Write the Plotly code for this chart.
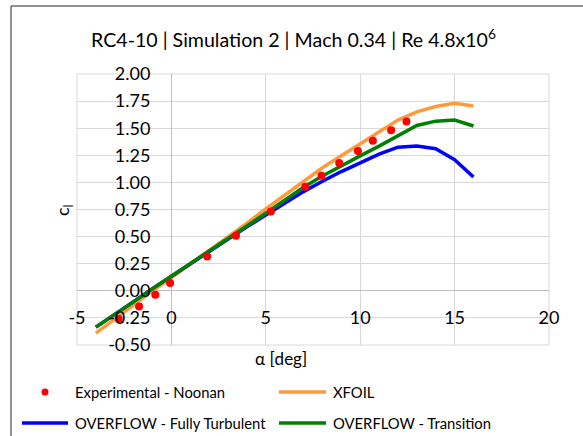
import plotly.graph_objects as go

# Angle of attack (deg) for the computed polars
alpha_sim = [-4, -3, -2, -1, 0, 1, 2, 3, 4, 5, 6, 7, 8, 9, 10, 11, 12, 13, 14, 15, 16]

cl_xfoil = [-0.39, -0.26, -0.13, 0.00, 0.12, 0.245, 0.37, 0.495, 0.625, 0.755, 0.885,
            1.015, 1.135, 1.245, 1.355, 1.46, 1.575, 1.65, 1.70, 1.73, 1.705]
cl_turb = [-0.335, -0.22, -0.10, 0.02, 0.135, 0.25, 0.365, 0.48, 0.59, 0.70, 0.81,
           0.915, 1.01, 1.10, 1.18, 1.26, 1.325, 1.335, 1.31, 1.21, 1.05]
cl_trans = [-0.335, -0.22, -0.10, 0.02, 0.135, 0.25, 0.37, 0.485, 0.60, 0.715, 0.835,
            0.955, 1.06, 1.155, 1.245, 1.335, 1.43, 1.525, 1.565, 1.575, 1.52]

# Wind-tunnel measurements
alpha_exp = [-2.79, -1.71, -0.85, -0.07, 1.90, 3.42, 5.27, 7.09, 7.95, 8.89, 9.88, 10.67, 11.64, 12.45]
cl_exp = [-0.26, -0.145, -0.037, 0.071, 0.316, 0.507, 0.732, 0.959, 1.061, 1.178, 1.289, 1.384, 1.482, 1.562]

x_ticks = [-5, 0, 5, 10, 15, 20]
y_ticks = [-0.5, -0.25, 0.0, 0.25, 0.5, 0.75, 1.0, 1.25, 1.5, 1.75, 2.0]
x_tick_text = [str(v) for v in x_ticks]
y_tick_text = [f"{v:.2f}" for v in y_ticks]

series_names = ["Experimental - Noonan", "XFOIL", "OVERFLOW - Fully Turbulent", "OVERFLOW - Transition"]
series_colors = ["#ff0000", "#ff9a3c", "#0000ff", "#008000"]

FONT = "Lato, 'Open Sans', sans-serif"
W, H = 583, 436
ML, MR, MT, MB = 77, 34, 74, 91
PW, PH = W - ML - MR, H - MT - MB


def px_x(p):
    return (p - ML) / PW


def px_y(p):
    return (H - MB - p) / PH


fig = go.Figure()
fig.add_trace(go.Scatter(x=alpha_sim, y=cl_xfoil, mode="lines", name=series_names[1],
                         line=dict(color=series_colors[1], width=3.5)))
fig.add_trace(go.Scatter(x=alpha_sim, y=cl_turb, mode="lines", name=series_names[2],
                         line=dict(color=series_colors[2], width=3.5)))
fig.add_trace(go.Scatter(x=alpha_sim, y=cl_trans, mode="lines", name=series_names[3],
                         line=dict(color=series_colors[3], width=3.5)))
fig.add_trace(go.Scatter(x=alpha_exp, y=cl_exp, mode="markers", name=series_names[0],
                         marker=dict(color=series_colors[0], size=8)))

axis_common = dict(
    showgrid=True, gridcolor="#d9d9d9", gridwidth=1,
    zeroline=True, zerolinecolor="#bfbfbf", zerolinewidth=1,
    showline=False, ticks="", tickfont=dict(family=FONT, size=18, color="#000000"),
)

fig.update_layout(
    width=W, height=H,
    margin=dict(l=ML, r=MR, t=MT, b=MB),
    paper_bgcolor="white", plot_bgcolor="white",
    showlegend=False,
    title=dict(text="RC4-10 | Simulation 2 | Mach 0.34 | Re 4.8x10<sup>6</sup>",
               x=293.5 / W, xanchor="center", xref="container",
               y=1 - 40 / H, yanchor="middle", yref="container",
               font=dict(family=FONT, size=19.6, color="#000000")),
    xaxis=dict(range=[-5, 20], tickvals=x_ticks, ticktext=x_tick_text,
               anchor="free", position=0.2, ticklabelstandoff=14, **axis_common),
    yaxis=dict(range=[-0.5, 2.0], tickvals=y_ticks, ticktext=y_tick_text,
               anchor="free", position=0.2, ticklabelstandoff=21, **axis_common),
)

# plot-area frame
fig.add_shape(type="rect", xref="x domain", yref="y domain", x0=0, x1=1, y0=0, y1=1,
              line=dict(color="#d9d9d9", width=1), layer="below")

# chart-area border
fig.add_shape(type="rect", xref="paper", yref="paper",
              x0=px_x(11), x1=px_x(620), y0=px_y(470), y1=px_y(6),
              line=dict(color="#262626", width=1))

# axis titles
fig.add_annotation(text="α [deg]", xref="paper", yref="paper", x=px_x(281), y=px_y(358),
                   showarrow=False, xanchor="center", yanchor="middle",
                   font=dict(family=FONT, size=17, color="#000000"))
fig.add_annotation(text="c<sub>l</sub>", xref="paper", yref="paper", x=px_x(63), y=px_y(210),
                   showarrow=False, textangle=-90, xanchor="center", yanchor="middle",
                   font=dict(family=FONT, size=18, color="#000000"))

# legend drawn as keys plus labels
leg_font = dict(family=FONT, size=14.8, color="#000000")
rows = [392, 423]
entries = [
    (0, 0, "marker"), (1, 0, "line"),
    (2, 1, "line"), (3, 1, "line"),
]
col_key = [(22, 68), (279, 326)]
col_text = [73, 331]
for k, (idx, row, kind) in enumerate(entries):
    col = k % 2
    yy = px_y(rows[row])
    x0, x1 = col_key[col]
    if kind == "marker":
        cx = (x0 + x1) / 2
        fig.add_shape(type="circle", xref="paper", yref="paper",
                      x0=px_x(cx - 3.5), x1=px_x(cx + 3.5),
                      y0=px_y(rows[row] + 3.5), y1=px_y(rows[row] - 3.5),
                      fillcolor=series_colors[idx], line=dict(width=0))
    else:
        fig.add_shape(type="line", xref="paper", yref="paper",
                      x0=px_x(x0), x1=px_x(x1), y0=yy, y1=yy,
                      line=dict(color=series_colors[idx], width=3.5))
    fig.add_annotation(text=series_names[idx], xref="paper", yref="paper",
                       x=px_x(col_text[col]), y=yy, showarrow=False,
                       xanchor="left", yanchor="middle", font=leg_font)

fig.write_html("out.html")
